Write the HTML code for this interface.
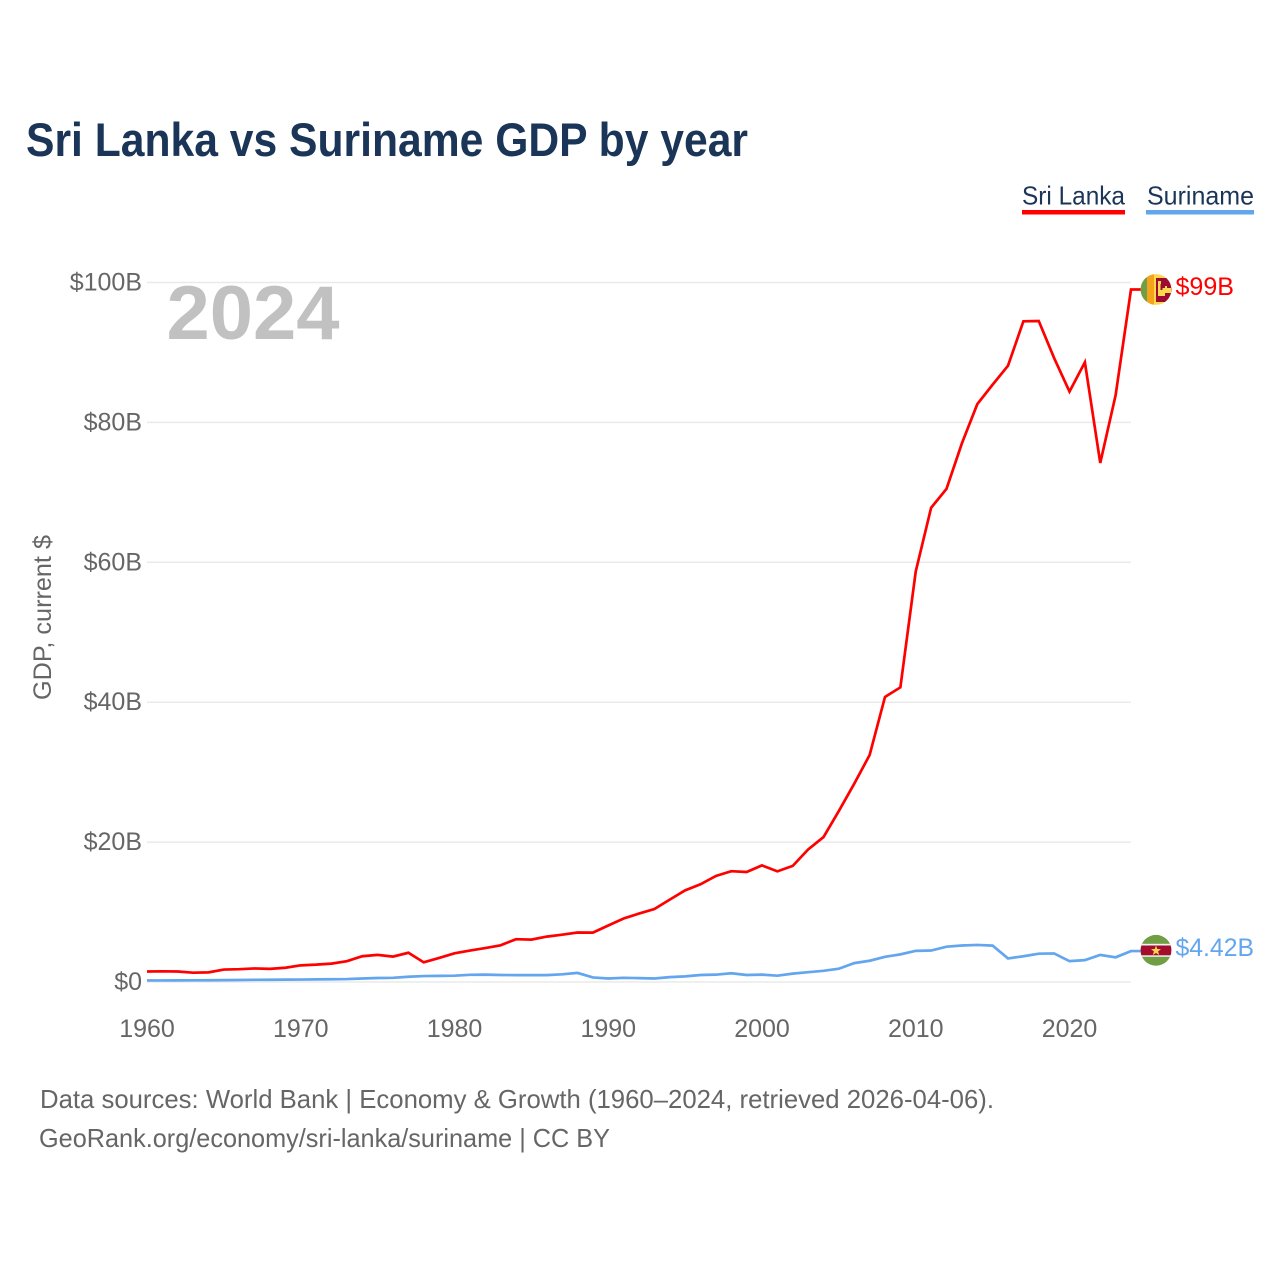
<!DOCTYPE html>
<html lang="en">
<head>
<meta charset="utf-8">
<title>Sri Lanka vs Suriname GDP by year</title>
<style>
  html, body { margin: 0; padding: 0; background: #fff; }
  svg { display: block; font-family: "Liberation Sans", sans-serif; }
</style>
</head>
<body>
<svg id="chart" xmlns="http://www.w3.org/2000/svg" width="1280" height="1280" viewBox="0 0 1280 1280">
  <defs>
    <clipPath id="clip-lk"><circle cx="1156" cy="289.5" r="15.4"/></clipPath>
    <clipPath id="clip-sr"><circle cx="1156" cy="950.3" r="15.4"/></clipPath>
  </defs>
  <rect width="1280" height="1280" fill="#fff"/>
  <text x="26" y="156" font-size="47" font-weight="700" fill="#1a3557" textLength="722" lengthAdjust="spacingAndGlyphs">Sri Lanka vs Suriname GDP by year</text>

  <g>
    <text x="1022" y="204.500" font-size="26" fill="#1a3557" textLength="103" lengthAdjust="spacingAndGlyphs">Sri Lanka</text>
    <rect x="1022" y="210" width="103" height="4.500" fill="#ff0000"/>
  </g>
  <g>
    <text x="1147" y="204.500" font-size="26" fill="#1a3557" textLength="107" lengthAdjust="spacingAndGlyphs">Suriname</text>
    <rect x="1146" y="210" width="108" height="4.500" fill="#63a6ee"/>
  </g>

  <g id="grid"></g>
  <g id="yticks"></g>
  <g id="xticks"></g>
  <text transform="translate(51 700) rotate(-90)" font-size="25" fill="#666" textLength="165" lengthAdjust="spacingAndGlyphs">GDP, current $</text>
  <text x="166.500" y="339" font-size="76" font-weight="700" fill="#c1c1c1" textLength="173" lengthAdjust="spacingAndGlyphs">2024</text>
  <g id="series"></g>

  <g clip-path="url(#clip-lk)">
    <rect x="1140" y="273" width="32" height="33" fill="#fdd94f"/>
    <rect x="1140" y="273" width="7" height="33" fill="#6f9e44"/>
    <rect x="1147" y="273" width="7" height="33" fill="#f6a31c"/>
    <rect x="1156" y="278" width="16" height="24" fill="#9c0b30"/>
    <path d="M1158 281h3v7h4v-2h2v2h4v5h-6v3h-7z" fill="#fdd94f"/>
    <rect x="1160.500" y="284" width="2" height="6" fill="#9c0b30"/>
  </g>
  <g clip-path="url(#clip-sr)">
    <rect x="1140" y="934" width="32" height="33" fill="#6f9e44"/>
    <rect x="1140" y="943.800" width="32" height="13" fill="#f2f2f2"/>
    <rect x="1140" y="945.500" width="32" height="9.800" fill="#a30d2d"/>
    <polygon points="1156,945.600 1157.300,949 1161,949.100 1158.100,951.400 1159.200,955 1156,953 1152.800,955 1153.900,951.400 1151,949.100 1154.700,949" fill="#fbd24e"/>
  </g>
  <text x="1175.500" y="295" font-size="25" fill="#ff0000" textLength="58.500" lengthAdjust="spacingAndGlyphs">$99B</text>
  <text x="1175.500" y="956" font-size="25" fill="#63a6ee" textLength="78.500" lengthAdjust="spacingAndGlyphs">$4.42B</text>

  <text x="40" y="1108" font-size="26" fill="#666" textLength="954" lengthAdjust="spacingAndGlyphs">Data sources: World Bank | Economy &amp; Growth (1960–2024, retrieved 2026-04-06).</text>
  <text x="39" y="1147" font-size="26" fill="#666" textLength="571" lengthAdjust="spacingAndGlyphs">GeoRank.org/economy/sri-lanka/suriname | CC BY</text>
</svg>
<script>
const years = [1960,1961,1962,1963,1964,1965,1966,1967,1968,1969,1970,1971,1972,1973,1974,1975,1976,1977,1978,1979,1980,1981,1982,1983,1984,1985,1986,1987,1988,1989,1990,1991,1992,1993,1994,1995,1996,1997,1998,1999,2000,2001,2002,2003,2004,2005,2006,2007,2008,2009,2010,2011,2012,2013,2014,2015,2016,2017,2018,2019,2020,2021,2022,2023,2024];
const sriLanka = [1.5,1.53,1.5,1.33,1.38,1.78,1.83,1.94,1.88,2.04,2.38,2.48,2.63,2.98,3.68,3.88,3.63,4.18,2.81,3.44,4.1,4.5,4.85,5.25,6.12,6.06,6.49,6.76,7.08,7.06,8.08,9.08,9.78,10.43,11.78,13.1,13.97,15.16,15.84,15.73,16.67,15.82,16.6,18.95,20.72,24.45,28.35,32.45,40.75,42.12,58.7,67.8,70.5,77.0,82.6,85.4,88.1,94.45,94.5,89.2,84.4,88.6,74.2,83.9,99.0];
const suriname = [0.22,0.22,0.23,0.24,0.25,0.27,0.29,0.31,0.32,0.34,0.35,0.37,0.39,0.42,0.5,0.57,0.6,0.75,0.85,0.88,0.9,1.03,1.05,1.0,0.98,0.98,0.98,1.1,1.3,0.65,0.5,0.6,0.55,0.5,0.7,0.8,1.0,1.05,1.25,1.0,1.05,0.9,1.2,1.4,1.6,1.9,2.7,3.04,3.6,3.95,4.45,4.5,5.05,5.22,5.3,5.2,3.37,3.68,4.05,4.08,2.98,3.13,3.88,3.53,4.42];
const yTickValues = [0,20,40,60,80,100];
const yTickLabels = ["$0","$20B","$40B","$60B","$80B","$100B"];
const xTickValues = [1960,1970,1980,1990,2000,2010,2020];
const xTickLabels = ["1960","1970","1980","1990","2000","2010","2020"];

const NS = 'http://www.w3.org/2000/svg';
const xScale = function (year) { return 147 + (year - 1960) * (1131 - 147) / 64; };
const yScale = function (v) { return 982 - v * 6.995; };

function make(tag, parent, attrs, txt) {
  const el = document.createElementNS(NS, tag);
  for (const k in attrs) el.setAttribute(k, attrs[k]);
  if (txt !== undefined) el.textContent = txt;
  parent.appendChild(el);
  return el;
}

const gridG = document.getElementById('grid');
const yG = document.getElementById('yticks');
const xG = document.getElementById('xticks');
const seriesG = document.getElementById('series');

yTickValues.forEach(function (v, i) {
  const line = make('line', gridG, { x1: 147, x2: xScale(2024), y1: yScale(v), y2: yScale(v), stroke: '#eaeaea', 'stroke-width': 1.5 });
  
  
  const label = make('text', yG, { x: 142, y: yScale(v) + 8, 'text-anchor': 'end', 'font-size': 25, fill: '#666' }, yTickLabels[i]);
  
  
});

xTickValues.forEach(function (y, i) {
  const label = make('text', xG, { x: xScale(y), y: 1037, 'text-anchor': 'middle', 'font-size': 25, fill: '#666' }, xTickLabels[i]);
  
  
});

function drawSeries(values, color) {
  let d = values.map(function (v, i) {
    return (i ? 'L' : 'M') + xScale(years[i]).toFixed(2) + ' ' + yScale(v).toFixed(2);
  }).join(' ');
  d += ' H1141';
  return make('path', seriesG, { d: d, fill: 'none', stroke: color, 'stroke-width': 2.7, 'stroke-linejoin': 'miter' });
}

const lineSuriname = drawSeries(suriname, '#63a6ee');



const lineSriLanka = drawSeries(sriLanka, '#ff0000');


</script>
</body>
</html>
